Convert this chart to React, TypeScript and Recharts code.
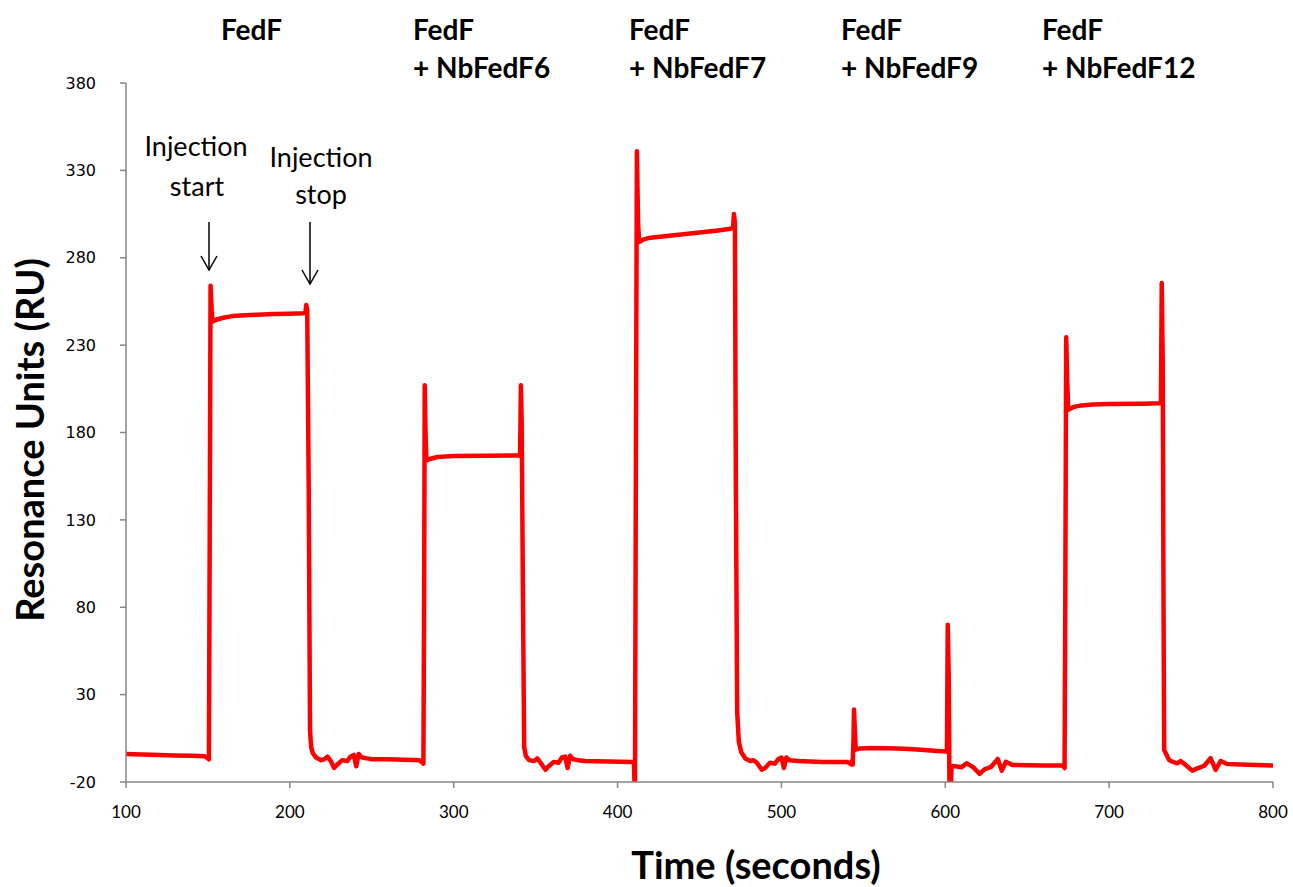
import React from 'react';
import { LineChart, Line, XAxis, YAxis } from 'recharts';

// time (s), response (RU)
const baselineStart = [
  [100, -4], [110, -4.2], [120, -4.5], [130, -4.8], [140, -5], [148, -5.3], [150, -6.5],
];

const fedF = [
  [150.6, -7], [151.2, 150], [151.6, 264], [152.3, 250], [152.8, 243.5], [155, 244.5],
  [160, 245.8], [165, 246.6], [170, 247], [180, 247.4], [190, 247.8], [200, 248],
  [208, 248.3], [209.5, 248.5], [210, 253], [210.6, 250], [211.5, 150], [212.3, 10],
  [213, 0], [214, -3.5], [216, -6], [219, -7.5], [221, -7], [223, -5.5], [225, -8],
  [227, -12], [229, -10], [232, -7.5], [235, -8], [237, -5.5], [239, -4.5], [240.5, -11],
  [242, -4], [244, -6], [247, -6.5], [250, -7], [260, -7], [270, -7.2], [279, -7.5], [281, -9],
];

const nbFedF6 = [
  [281.5, -9.5], [282, 100], [282.3, 207], [282.8, 180], [283.3, 164], [286, 165],
  [290, 166], [300, 166.5], [320, 166.7], [338, 166.8], [340.5, 167], [341, 207],
  [341.5, 185], [342.3, 80], [343, 0], [344, -5], [346, -7.5], [349, -8], [351, -6.5],
  [353, -9], [356, -13], [358, -11], [361, -8.5], [364, -9], [366, -6], [368, -5.5],
  [369.5, -12], [371, -5], [373, -7], [376, -7.5], [380, -8], [395, -8.2], [409, -8.5],
];

const nbFedF7 = [
  [410, -9], [410.6, -30], [411.3, 200], [411.8, 341], [412.5, 300], [413.2, 289],
  [416, 290.5], [420, 291.5], [430, 292.5], [440, 293.5], [450, 294.5], [460, 295.5],
  [468, 296.5], [470.5, 297], [471, 305], [471.6, 300], [472.2, 150], [473, 20],
  [474, 3], [475.5, -3], [478, -6.5], [481, -8], [483, -7.5], [485, -9], [488, -13],
  [490, -12], [493, -9], [496, -9.5], [498, -7], [500, -6], [501.5, -12], [503, -6],
  [505, -7.5], [510, -8], [525, -8.5], [540, -8.5], [542.8, -10],
];

const nbFedF9 = [
  [543, -8], [543.5, -10], [544, 5], [544.3, 21.5], [544.8, 10], [545.3, -1.5],
  [548, -0.8], [555, -0.5], [565, -0.7], [575, -1], [585, -1.6], [595, -2.2],
  [601, -2.6], [601.5, 70], [602.1, 40], [602.6, -30], [603.3, -30], [603.8, -11],
  [606, -11], [610, -11.5], [613, -9.3], [617, -11.5], [621, -15.4], [624, -12.7],
  [628, -11.3], [632, -6.8], [634.5, -13.5], [637, -8.4], [641, -10.3], [650, -10.4],
  [660, -10.5], [671, -10.5],
];

const nbFedF12 = [
  [672, -11], [672.8, -12], [673.3, 100], [673.8, 234.5], [674.4, 210], [675, 193],
  [678, 194.5], [683, 195.5], [690, 196], [700, 196.3], [720, 196.5], [731, 196.7],
  [731.6, 197], [732.1, 265.5], [732.7, 220], [733.2, 80], [733.6, -1.7], [736.6, -7.4],
  [739, -8.5], [741.6, -9.3], [743.6, -8], [746.7, -10.3], [750.7, -13.5], [753.8, -12.2],
  [757.9, -10.8], [761.9, -6.4], [765, -13.1], [768, -8], [772, -9.7], [780, -10],
  [790, -10.3], [800, -10.6],
];

const xTicks = [100, 200, 300, 400, 500, 600, 700, 800];
const yTicks = [-20, 30, 80, 130, 180, 230, 280, 330, 380];

const groupLabels = [
  { x: 221, lines: ['FedF'] },
  { x: 413, lines: ['FedF', '+ NbFedF6'] },
  { x: 629, lines: ['FedF', '+ NbFedF7'] },
  { x: 841, lines: ['FedF', '+ NbFedF9'] },
  { x: 1042, lines: ['FedF', '+ NbFedF12'] },
];

const data = [...baselineStart, ...fedF, ...nbFedF6, ...nbFedF7, ...nbFedF9, ...nbFedF12].map(
  ([t, ru]) => ({ t, ru })
);

const W = 1293;
const H = 887;
const axisGray = '#868686';
const calibri = 'Lato, "Open Sans", sans-serif';

export default function App() {
  return (
    <div style={{ position: 'relative', width: W, height: H, background: '#fff' }}>
      <style>{'body{margin:0}'}</style>
      <LineChart width={W} height={H} data={data} margin={{ top: 83, right: 20, bottom: 75, left: 66 }}>
        <XAxis
          dataKey="t"
          type="number"
          domain={[100, 800]}
          ticks={xTicks}
          interval={0}
          height={30}
          stroke={axisGray}
          strokeWidth={1.5}
          tickSize={6}
          tickMargin={18}
          tick={{ fill: '#000', fontSize: 17, fontFamily: calibri }}
        />
        <YAxis
          type="number"
          domain={[-20, 380]}
          ticks={yTicks}
          interval={0}
          allowDataOverflow
          width={60}
          stroke={axisGray}
          strokeWidth={1.5}
          tickSize={6}
          tickMargin={24}
          tick={{ fill: '#000', fontSize: 16, fontFamily: '"DejaVu Sans", Verdana, sans-serif' }}
        />
        <Line
          dataKey="ru"
          type="linear"
          stroke="#ff0000"
          strokeWidth={4.5}
          strokeLinejoin="round"
          dot={false}
          activeDot={false}
          isAnimationActive={false}
        />
      </LineChart>
      <svg
        width={W}
        height={H}
        style={{ position: 'absolute', left: 0, top: 0, pointerEvents: 'none' }}
      >
        {groupLabels.map((g) =>
          g.lines.map((line, i) => (
            <text
              key={g.x + line}
              x={g.x}
              y={40 + i * 38}
              fontFamily={calibri}
              fontWeight="bold"
              fontSize={28}
              fill="#000"
            >
              {line}
            </text>
          ))
        )}
        <g fontFamily={calibri} fontSize={27} fill="#000" textAnchor="middle">
          <text x={196} y={156}>Injection</text>
          <text x={197} y={196}>start</text>
          <text x={321} y={167}>Injection</text>
          <text x={321} y={204}>stop</text>
        </g>
        <g stroke="#000" strokeWidth={1.5} fill="none">
          <line x1={209} y1={222} x2={209} y2={270} />
          <polyline points="201,256 209,270 217,256" />
          <line x1={310} y1={222} x2={310} y2={284} />
          <polyline points="302,270 310,284 318,270" />
        </g>
        <text
          x={756}
          y={879}
          textAnchor="middle"
          fontFamily={calibri}
          fontWeight="bold"
          fontSize={38}
          fill="#000"
        >
          Time (seconds)
        </text>
        <text
          transform="translate(44,440) rotate(-90)"
          textAnchor="middle"
          fontFamily={calibri}
          fontWeight="bold"
          fontSize={38}
          fill="#000"
        >
          Resonance Units (RU)
        </text>
      </svg>
    </div>
  );
}
